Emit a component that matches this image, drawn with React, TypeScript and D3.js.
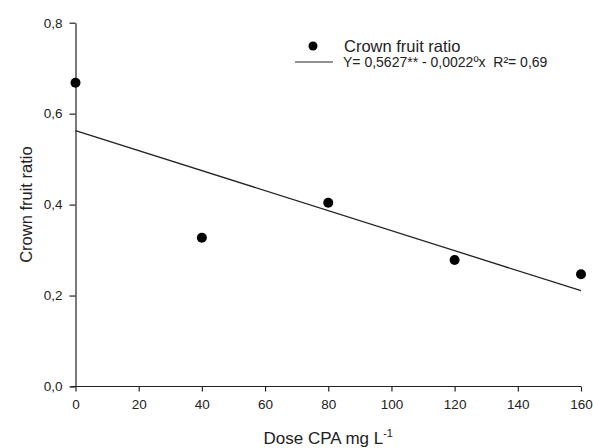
import { useEffect, useRef } from 'react';
import * as d3 from 'd3';

// dados
const doses = [0, 40, 80, 120, 160];
const ratios = [0.668, 0.327, 0.404, 0.278, 0.247];
const xTicks = [0, 20, 40, 60, 80, 100, 120, 140, 160];
const yTicks = [0, 0.2, 0.4, 0.6, 0.8];
const intercept = 0.5627;
const slope = -0.0022;
const legendLabels = ['Crown fruit ratio', 'Y= 0,5627** - 0,0022ºx  R²= 0,69'];

const W = 593;
const H = 448;
const FONT = '"Liberation Sans", Arial, sans-serif';
const INK = '#222';

export default function App() {
  const svgRef = useRef<SVGSVGElement | null>(null);

  useEffect(() => {
    if (!svgRef.current) return;
    const svg = d3.select(svgRef.current);
    svg.selectAll('*').remove();

    const margin = { top: 22.7, right: 12, bottom: 61.5, left: 75.5 };
    const h = H - margin.top - margin.bottom;

    svg.append('rect').attr('width', W).attr('height', H).attr('fill', '#fff');

    const g = svg.append('g').attr('transform', `translate(${margin.left},${margin.top})`);

    const x = d3.scaleLinear().domain([0, 160]).range([0, 505.5]);
    const y = d3.scaleLinear().domain([0, 0.8]).range([h, 0]);

    const comma = (v: number) => d3.format('.1f')(v).replace('.', ',');

    // eixo x
    const xAxis = g.append('g')
      .attr('transform', `translate(0,${h})`)
      .call(d3.axisBottom(x).tickValues(xTicks).tickSize(5).tickSizeOuter(0).tickPadding(8).tickFormat((d) => String(d)));

    // eixo y
    const yAxis = g.append('g')
      .call(d3.axisLeft(y).tickValues(yTicks).tickSize(6).tickSizeOuter(0).tickPadding(7).tickFormat((d) => comma(+d)));

    [xAxis, yAxis].forEach((a) => {
      a.select('.domain').attr('stroke', INK).attr('stroke-width', 1.2);
      a.selectAll('.tick line').attr('stroke', INK).attr('stroke-width', 1.2);
      a.selectAll('.tick text').attr('fill', INK).style('font-family', FONT).style('font-size', '13.5px');
    });
    // extensão do eixo x até o traço do 0,0
    xAxis.select('.domain').attr('d', `M-5,0H${x(160)}`);

    // linha de regressão
    g.append('line')
      .attr('x1', x(0)).attr('y1', y(intercept + slope * 0))
      .attr('x2', x(160)).attr('y2', y(intercept + slope * 160))
      .attr('stroke', INK).attr('stroke-width', 1.3);

    // pontos
    g.selectAll('circle.pt')
      .data(doses.map((d, i) => ({ d, v: ratios[i] })))
      .join('circle')
      .attr('class', 'pt')
      .attr('cx', (p) => x(p.d))
      .attr('cy', (p) => y(p.v))
      .attr('r', 5)
      .attr('fill', '#000');

    // títulos
    svg.append('text')
      .attr('x', margin.left + x(80))
      .attr('y', 444)
      .attr('text-anchor', 'middle')
      .style('font-family', FONT).style('font-size', '17px').attr('fill', INK)
      .call((t) => {
        t.append('tspan').text('Dose CPA mg L');
        t.append('tspan').attr('dy', -7).style('font-size', '11px').text('-1');
      });

    svg.append('text')
      .attr('transform', `translate(32,${margin.top + h / 2}) rotate(-90)`)
      .attr('text-anchor', 'middle')
      .style('font-family', FONT).style('font-size', '16.5px').attr('fill', INK)
      .text('Crown fruit ratio');

    // legenda
    const lg = svg.append('g');
    lg.append('circle').attr('cx', 313).attr('cy', 46).attr('r', 4.5).attr('fill', '#000');
    lg.append('text').attr('x', 344).attr('y', 52)
      .style('font-family', FONT).style('font-size', '16.5px').attr('fill', INK)
      .text(legendLabels[0]);
    lg.append('line').attr('x1', 295).attr('x2', 333).attr('y1', 62).attr('y2', 62)
      .attr('stroke', INK).attr('stroke-width', 1.2);
    lg.append('text').attr('x', 343).attr('y', 67)
      .style('font-family', FONT).style('font-size', '14px').attr('fill', INK)
      .style('white-space', 'pre')
      .text(legendLabels[1]);
  }, []);

  return (
    <svg
      ref={svgRef}
      width={W}
      height={H}
      style={{ position: 'absolute', left: 0, top: 0, display: 'block' }}
    />
  );
}
